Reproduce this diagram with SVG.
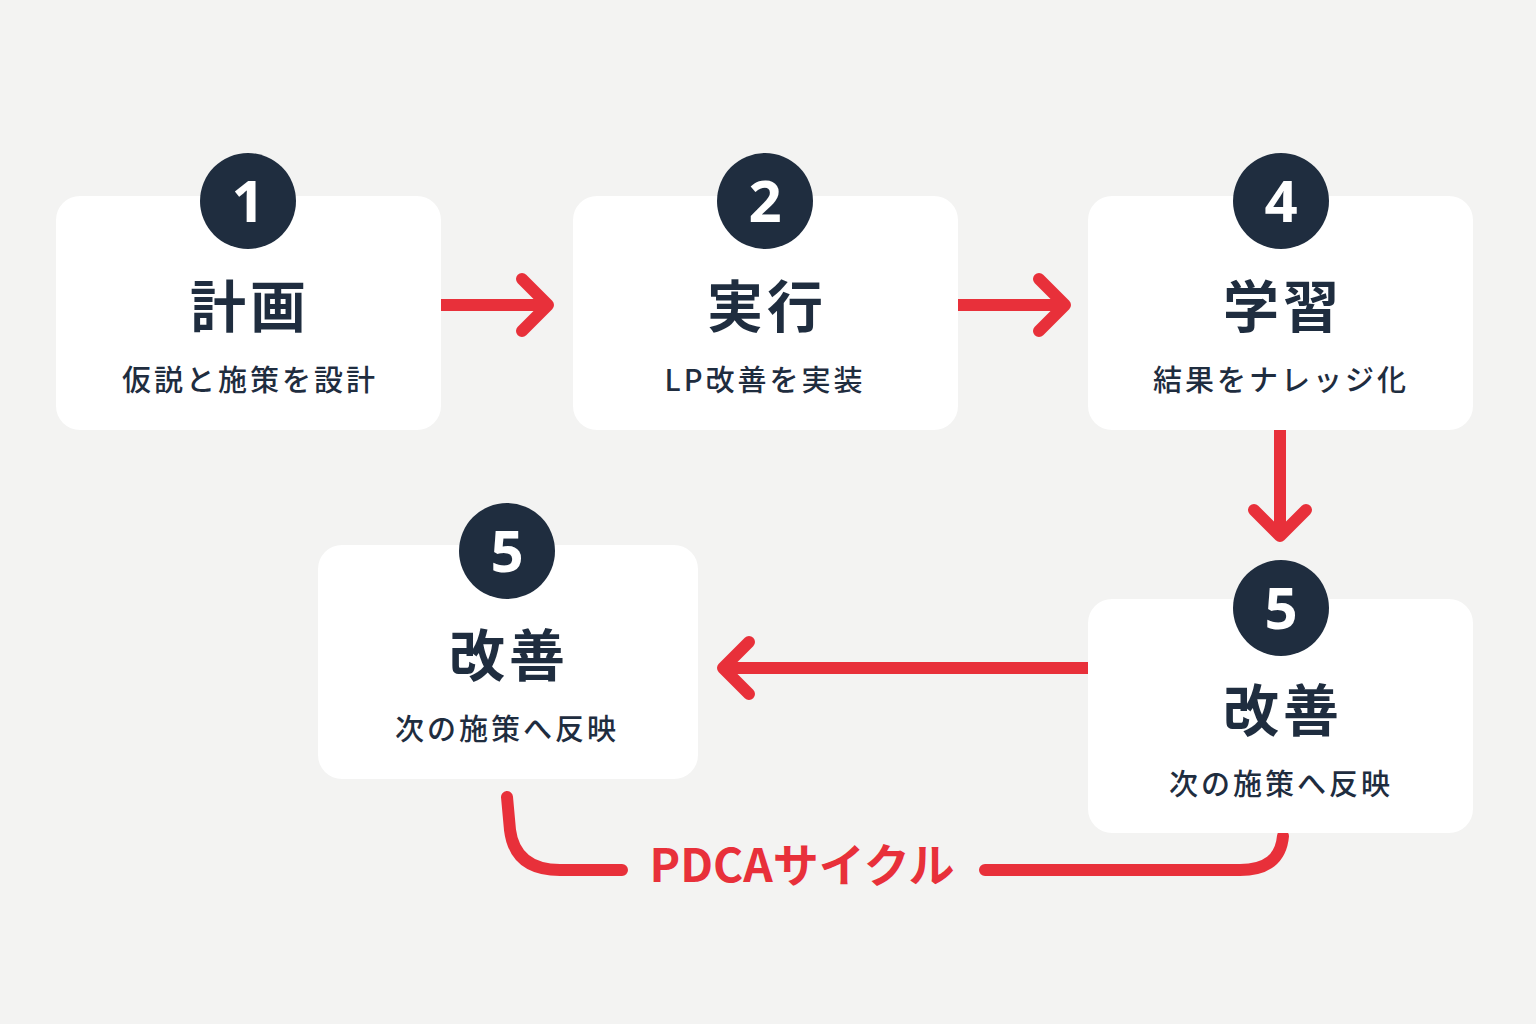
<svg xmlns="http://www.w3.org/2000/svg" width="1536" height="1024" viewBox="0 0 1536 1024">
<defs>
<style>
.card{fill:#ffffff;}
.badge{fill:#1f2d3f;}
.num{fill:#ffffff;font-family:"Noto Sans","Liberation Sans",sans-serif;font-weight:700;font-size:58px;text-anchor:middle;}
.title{fill:#1f2d3f;font-family:"Noto Sans CJK JP",sans-serif;font-weight:700;font-size:56px;text-anchor:middle;letter-spacing:4px;}
.sub{fill:#1f2d3f;font-family:"Noto Sans CJK JP",sans-serif;font-weight:500;font-size:29px;text-anchor:middle;letter-spacing:3px;}
.conn{fill:none;stroke:#e8303a;stroke-width:12;stroke-linecap:round;stroke-linejoin:round;}
.label{fill:#e8303a;font-family:"Noto Sans CJK JP",sans-serif;font-weight:700;font-size:46px;text-anchor:middle;}
</style>
</defs>
<rect width="1536" height="1024" fill="#f3f3f2"/>
<g id="connectors">
<path class="conn" d="M441 305 H546 M522 279 L548 305 L522 331" stroke-linecap="butt"/>
<path class="conn" d="M958 305 H1063 M1039 279 L1065 305 L1039 331"/>
<path class="conn" d="M1280 430 V534 M1254 510 L1280 536 L1306 510"/>
<path class="conn" d="M1088 668 H725 M749 642 L723 668 L749 694"/>
<path class="conn" d="M507 797 L510 830 Q515 870 560 870 L622 870"/>
<path class="conn" d="M985 870 L1240 870 Q1280 870 1283 836"/>
<text class="label" x="802" y="882">PDCAサイクル</text>
</g>
<g id="node-plan">
<rect class="card" x="56" y="196" width="385" height="234" rx="24"/>
<circle class="badge" cx="248" cy="201" r="48"/>
<text class="num" x="248" y="222">1</text>
<text class="title" x="250" y="327">計画</text>
<text class="sub" x="250" y="391">仮説と施策を設計</text>
</g>
<g id="node-do">
<rect class="card" x="573" y="196" width="385" height="234" rx="24"/>
<circle class="badge" cx="765" cy="201" r="48"/>
<text class="num" x="765" y="222">2</text>
<text class="title" x="767" y="327">実行</text>
<text class="sub" x="765" y="391">LP改善を実装</text>
</g>
<g id="node-learn">
<rect class="card" x="1088" y="196" width="385" height="234" rx="24"/>
<circle class="badge" cx="1281" cy="201" r="48"/>
<text class="num" x="1281" y="222">4</text>
<text class="title" x="1283" y="327">学習</text>
<text class="sub" x="1281" y="391">結果をナレッジ化</text>
</g>
<g id="node-improve-left">
<rect class="card" x="318" y="545" width="380" height="234" rx="24"/>
<circle class="badge" cx="507" cy="551" r="48"/>
<text class="num" x="507" y="572">5</text>
<text class="title" x="509" y="676">改善</text>
<text class="sub" x="507" y="740">次の施策へ反映</text>
</g>
<g id="node-improve-right">
<rect class="card" x="1088" y="599" width="385" height="234" rx="24"/>
<circle class="badge" cx="1281" cy="608" r="48"/>
<text class="num" x="1281" y="629">5</text>
<text class="title" x="1283" y="731">改善</text>
<text class="sub" x="1281" y="795">次の施策へ反映</text>
</g>
</svg>
